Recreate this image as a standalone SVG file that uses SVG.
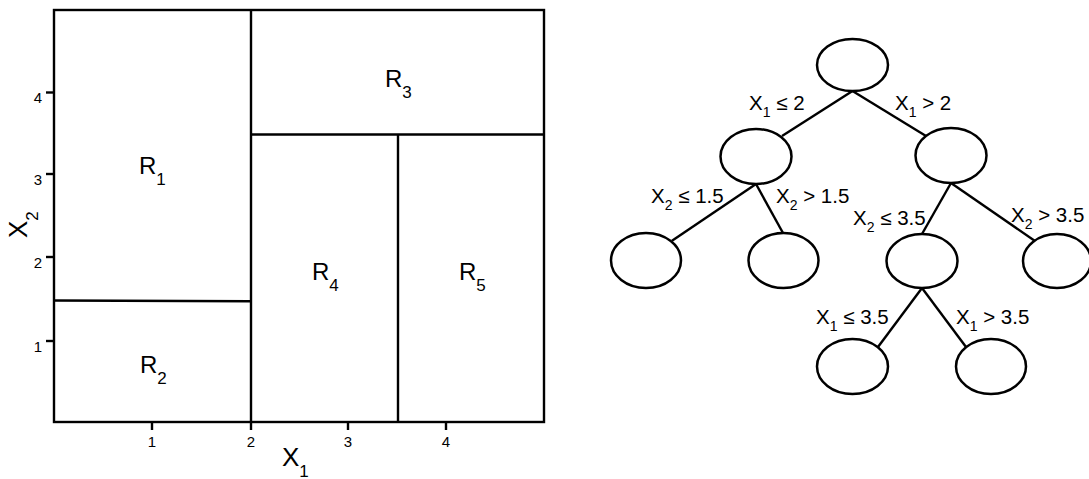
<svg xmlns="http://www.w3.org/2000/svg" width="1089" height="479" viewBox="0 0 1089 479">
<style>
.ln{stroke:#000;stroke-width:2.4;fill:none}
.nd{stroke:#000;stroke-width:2.5;fill:#fff}
text{font-family:"Liberation Sans",Arial,sans-serif;fill:#000}
.rg{font-size:24px}
.ax{font-size:26px}
.el{font-size:20.5px}
</style>
<rect width="1089" height="479" fill="#fff"/>
<g id="plot">
<rect class="ln" x="54" y="10" width="490" height="412"/>
<line class="ln" x1="251" y1="10" x2="251" y2="422"/>
<line class="ln" x1="251" y1="134.5" x2="544" y2="134.5"/>
<line class="ln" x1="398" y1="134.5" x2="398" y2="422"/>
<line class="ln" x1="54" y1="300.5" x2="251" y2="301.3"/>
<g id="ticks" font-size="15" style="font-size:15px">
<line class="ln" x1="46" y1="92.5" x2="54" y2="92.5"/>
<line class="ln" x1="46" y1="174" x2="54" y2="174"/>
<line class="ln" x1="46" y1="257" x2="54" y2="257"/>
<line class="ln" x1="46" y1="341" x2="54" y2="341"/>
<line class="ln" x1="152" y1="422" x2="152" y2="430"/>
<line class="ln" x1="251" y1="422" x2="251" y2="430"/>
<line class="ln" x1="348" y1="422" x2="348" y2="430"/>
<line class="ln" x1="446" y1="422" x2="446" y2="430"/>
<text x="42" y="103" text-anchor="end" style="font-size:15px">4</text>
<text x="42" y="185" text-anchor="end" style="font-size:15px">3</text>
<text x="42" y="268" text-anchor="end" style="font-size:15px">2</text>
<text x="42" y="352" text-anchor="end" style="font-size:15px">1</text>
<text x="152" y="447" text-anchor="middle" style="font-size:15px">1</text>
<text x="251" y="447" text-anchor="middle" style="font-size:15px">2</text>
<text x="348" y="447" text-anchor="middle" style="font-size:15px">3</text>
<text x="446" y="447" text-anchor="middle" style="font-size:15px">4</text>
</g>
<text class="ax" x="282" y="466">X<tspan font-size="17" dy="11">1</tspan></text>
<text class="ax" transform="translate(27,238) rotate(-90)">X<tspan font-size="17" dy="11">2</tspan></text>
<text class="rg" x="139" y="174">R<tspan font-size="17" dy="11">1</tspan></text>
<text class="rg" x="140" y="373">R<tspan font-size="17" dy="11">2</tspan></text>
<text class="rg" x="385" y="87">R<tspan font-size="17" dy="11">3</tspan></text>
<text class="rg" x="312" y="280">R<tspan font-size="17" dy="11">4</tspan></text>
<text class="rg" x="459" y="280">R<tspan font-size="17" dy="11">5</tspan></text>
</g>
<g id="connectors">
<line class="ln" x1="852.5" y1="91" x2="782" y2="136"/>
<line class="ln" x1="852.5" y1="91" x2="926" y2="136"/>
<line class="ln" x1="756" y1="184" x2="672" y2="240.7"/>
<line class="ln" x1="756" y1="184" x2="783" y2="233"/>
<line class="ln" x1="951" y1="183" x2="922" y2="234"/>
<line class="ln" x1="951" y1="183" x2="1035" y2="241"/>
<line class="ln" x1="922" y1="288" x2="878" y2="347"/>
<line class="ln" x1="922" y1="288" x2="966" y2="347"/>
<text class="el" x="749" y="110">X<tspan font-size="14" dy="7">1</tspan><tspan dy="-7"> ≤ 2</tspan></text>
<text class="el" x="895" y="110">X<tspan font-size="14" dy="7">1</tspan><tspan dy="-7"> &gt; 2</tspan></text>
<text class="el" x="651" y="203">X<tspan font-size="14" dy="7">2</tspan><tspan dy="-7"> ≤ 1.5</tspan></text>
<text class="el" x="776" y="203">X<tspan font-size="14" dy="7">2</tspan><tspan dy="-7"> &gt; 1.5</tspan></text>
<text class="el" x="853" y="225">X<tspan font-size="14" dy="7">2</tspan><tspan dy="-7"> ≤ 3.5</tspan></text>
<text class="el" x="1011" y="222">X<tspan font-size="14" dy="7">2</tspan><tspan dy="-7"> &gt; 3.5</tspan></text>
<text class="el" x="816" y="324">X<tspan font-size="14" dy="7">1</tspan><tspan dy="-7"> ≤ 3.5</tspan></text>
<text class="el" x="956" y="324">X<tspan font-size="14" dy="7">1</tspan><tspan dy="-7"> &gt; 3.5</tspan></text>
</g>
<g id="root"><ellipse class="nd" cx="852.5" cy="65" rx="35.5" ry="26"/></g>
<g id="n_left"><ellipse class="nd" cx="756" cy="156.5" rx="35.5" ry="27.5"/></g>
<g id="n_right"><ellipse class="nd" cx="951" cy="155.5" rx="35.5" ry="27.5"/></g>
<g id="leaf_R2"><ellipse class="nd" cx="646" cy="260.5" rx="35" ry="27.5"/></g>
<g id="leaf_R1"><ellipse class="nd" cx="783.5" cy="260.5" rx="35" ry="27.5"/></g>
<g id="n_x2"><ellipse class="nd" cx="922" cy="261" rx="35.5" ry="27"/></g>
<g id="leaf_R3"><ellipse class="nd" cx="1057" cy="261" rx="34" ry="27"/></g>
<g id="leaf_R4"><ellipse class="nd" cx="852.5" cy="366.5" rx="35.5" ry="27.5"/></g>
<g id="leaf_R5"><ellipse class="nd" cx="991" cy="366.5" rx="35" ry="27.5"/></g>
</svg>
